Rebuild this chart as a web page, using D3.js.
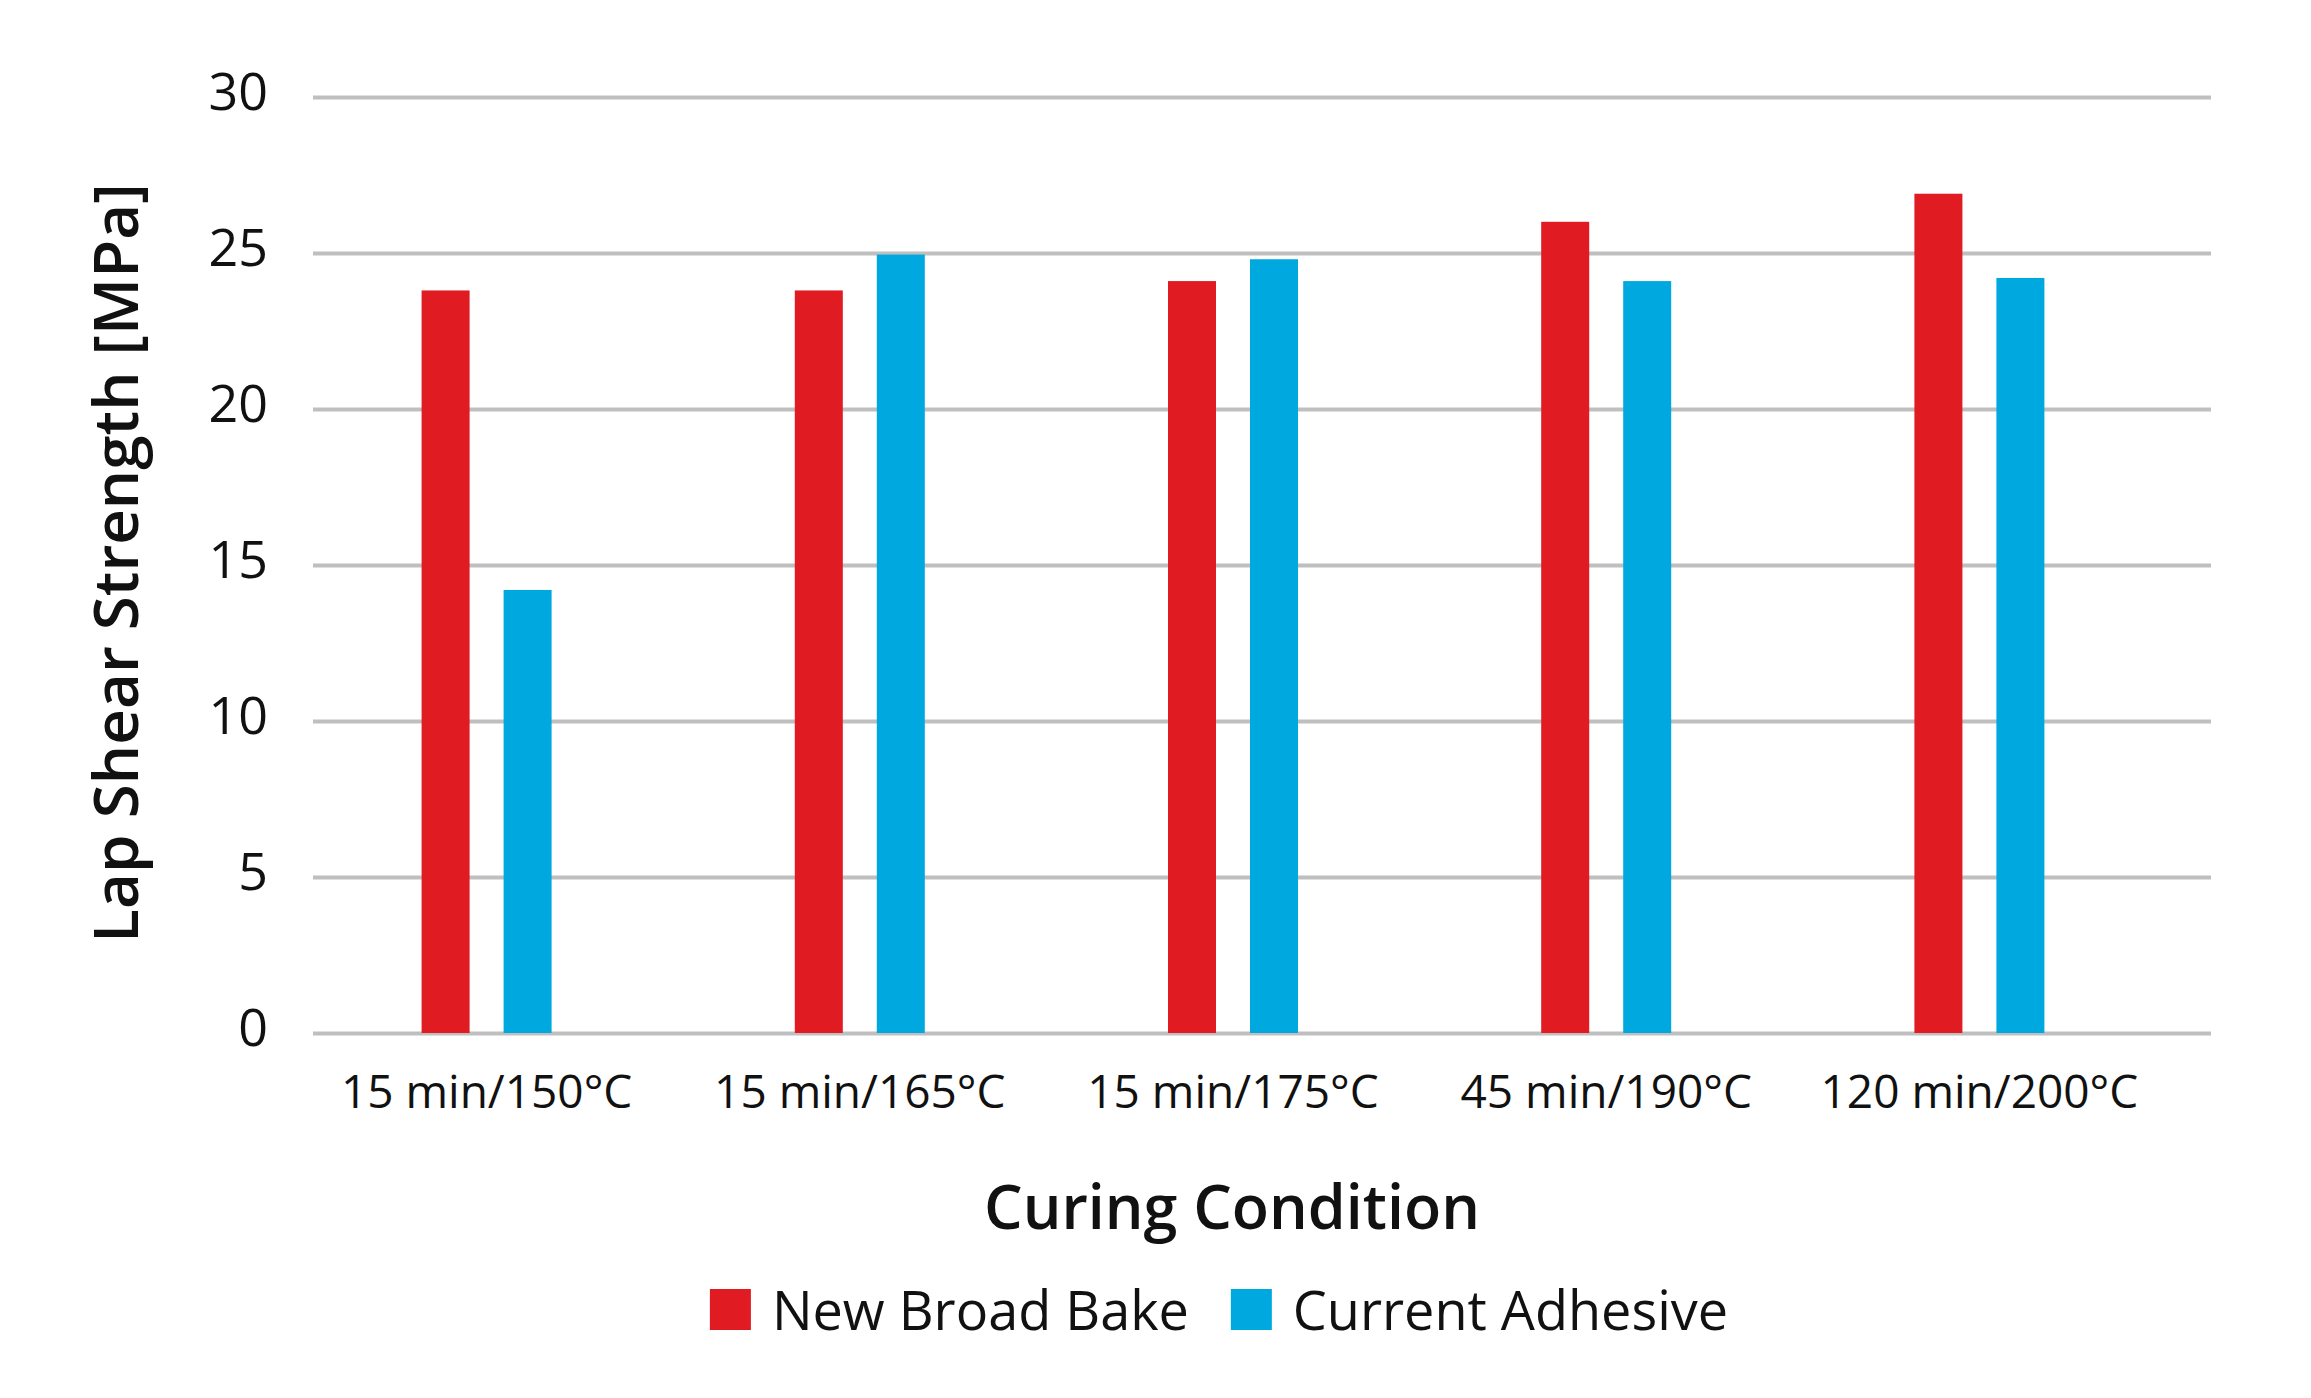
<!DOCTYPE html>
<html>
<head>
<meta charset="utf-8">
<script src="https://cdn.jsdelivr.net/npm/d3@7"></script>
<style>
  body { margin: 0; background: #fff; }
  text { font-family: "Open Sans", "Noto Sans", sans-serif; fill: #111; }
</style>
</head>
<body>
<div id="chart"></div>
<script>
// Datos del gráfico
var categories = ["15 min/150°C", "15 min/165°C", "15 min/175°C", "45 min/190°C", "120 min/200°C"];
var seriesNames = ["New Broad Bake", "Current Adhesive"];
var newBroadBake = [23.8, 23.8, 24.1, 26.0, 26.9];
var currentAdhesive = [14.2, 24.95, 24.8, 24.1, 24.2];
var yTicks = [0, 5, 10, 15, 20, 25, 30];

// Dimensiones del lienzo
var width = 2311;
var height = 1398;

// Área del gráfico
var plotLeft = 313, plotRight = 2211;
var plotTop = 97, plotBottom = 1033;

var svg = d3.select("#chart")
  .append("svg")
  .attr("width", width)
  .attr("height", height);

// Escalas
var y = d3.scaleLinear()
  .domain([0, 30])
  .range([plotBottom, plotTop]);

var x0 = d3.scaleBand()
  .domain(categories)
  .range([300, 2166])
  .padding(0);

var x1 = d3.scaleBand()
  .domain(seriesNames)
  .range([-65, 65])
  .paddingInner(0.4146)
  .paddingOuter(0);

var color = d3.scaleOrdinal()
  .domain(seriesNames)
  .range(["#e01b22", "#00a8e0"]);

// Eje Y con líneas de cuadrícula
var yAxis = svg.append("g")
  .attr("transform", "translate(" + plotLeft + ",0)")
  .call(d3.axisLeft(y)
    .tickValues(yTicks)
    .tickSize(-(plotRight - plotLeft))
    .tickPadding(45));

yAxis.select(".domain").remove();
yAxis.selectAll(".tick line")
  .attr("stroke", "#bfbfbf")
  .attr("stroke-width", 4);
yAxis.selectAll(".tick text")
  .attr("y", -4)
  .style("font-size", "52px")
  .style("font-family", "'Open Sans', sans-serif")
  .attr("fill", "#111");

// Eje X (solo etiquetas)
var xAxis = svg.append("g")
  .attr("transform", "translate(0," + plotBottom + ")")
  .call(d3.axisBottom(x0).tickSize(0).tickPadding(42));

xAxis.select(".domain").remove();
xAxis.selectAll(".tick text")
  .style("font-size", "46px")
  .style("font-family", "'Open Sans', sans-serif")
  .attr("fill", "#111");

// Tabla para las barras
var table = categories.map(function(c, i) {
  return { category: c, values: [
    { name: seriesNames[0], value: newBroadBake[i] },
    { name: seriesNames[1], value: currentAdhesive[i] }
  ] };
});

// Dibujar las barras
var groups = svg.selectAll(".group")
  .data(table)
  .enter()
  .append("g")
  .attr("class", "group")
  .attr("transform", function(d) {
    return "translate(" + (x0(d.category) + x0.bandwidth() / 2) + ",0)";
  });

groups.selectAll("rect")
  .data(function(d) { return d.values; })
  .enter()
  .append("rect")
  .attr("x", function(d) { return x1(d.name); })
  .attr("width", x1.bandwidth())
  .attr("y", function(d) { return y(d.value); })
  .attr("height", function(d) { return y(0) - y(d.value); })
  .attr("fill", function(d) { return color(d.name); });

// Título del eje Y
svg.append("text")
  .attr("transform", "translate(138," + ((plotTop + plotBottom) / 2 - 2) + ") rotate(-90)")
  .attr("text-anchor", "middle")
  .style("font-size", "62px")
  .style("font-weight", 600)
  .text("Lap Shear Strength [MPa]");

// Título del eje X
svg.append("text")
  .attr("x", 1232)
  .attr("y", 1229)
  .attr("text-anchor", "middle")
  .style("font-size", "61px")
  .style("font-weight", 600)
  .text("Curing Condition");

// Leyenda
var legend = svg.append("g");
var legendX = 0;
seriesNames.forEach(function(name) {
  var item = legend.append("g")
    .attr("transform", "translate(" + legendX + ",0)");
  item.append("rect")
    .attr("x", 0)
    .attr("y", 1289)
    .attr("width", 41)
    .attr("height", 41)
    .attr("fill", color(name));
  var t = item.append("text")
    .attr("x", 62)
    .attr("y", 1330)
    .style("font-size", "54px")
    .text(name);
  legendX += 62 + t.node().getComputedTextLength() + 42;
});
var legendWidth = legendX - 42;
legend.attr("transform", "translate(" + (1219 - legendWidth / 2) + ",0)");
</script>
</body>
</html>
